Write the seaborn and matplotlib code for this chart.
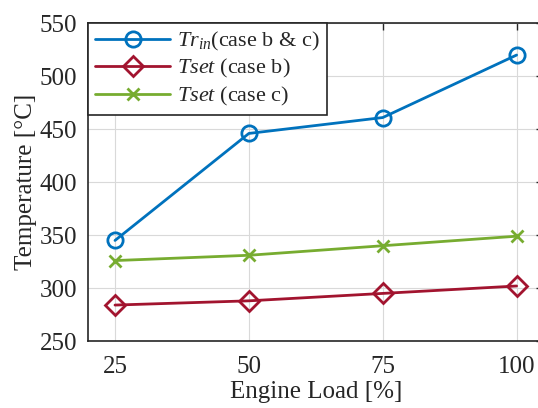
import matplotlib
matplotlib.use("Agg")
import matplotlib.pyplot as plt
import seaborn as sns
import pandas as pd

# Engine load points and measured / set temperatures
engine_load = [25, 50, 75, 100]
tr_in = [345, 446, 461, 520]
tset_case_b = [284, 288, 295, 302]
tset_case_c = [326, 331, 340, 349]

series_labels = [r"$Tr_{in}$(case b & c)", r"$Tset$ (case b)", r"$Tset$ (case c)"]
x_ticks = [25, 50, 75, 100]
y_ticks = [250, 300, 350, 400, 450, 500, 550]

sns.set_theme(style="whitegrid")
plt.rcParams["font.family"] = ["Liberation Serif", "DejaVu Serif"]
plt.rcParams["mathtext.fontset"] = "custom"
plt.rcParams["mathtext.rm"] = "Liberation Serif"
plt.rcParams["mathtext.it"] = "Liberation Serif:italic"
plt.rcParams["mathtext.bf"] = "Liberation Serif:bold"

fig = plt.figure(figsize=(5.38, 4.08), dpi=100)
ax = fig.add_axes([0.164, 0.164, 0.846, 0.779])

colors = ["#0072BD", "#A2142F", "#77AC30"]
markers = ["o", "D", "x"]
sizes = [11, 10, 9]
for vals, lab, col, mk, ms in zip([tr_in, tset_case_b, tset_case_c], series_labels,
                                  colors, markers, sizes):
    df = pd.DataFrame({"load": engine_load, "temp": vals})
    sns.lineplot(data=df, x="load", y="temp", ax=ax, color=col, linewidth=2,
                 marker=mk, markersize=ms, markerfacecolor="none",
                 markeredgecolor=col, markeredgewidth=2, label=lab)

ax.set_xlim(20, 105)
ax.set_ylim(250, 550)
ax.set_xticks(x_ticks)
ax.set_yticks(y_ticks)
ax.set_xlabel("Engine Load [%]", fontsize=18, color="#262626", labelpad=2)
ax.set_ylabel("Temperature [°C]", fontsize=18, color="#262626", labelpad=2)
ax.tick_params(axis="both", which="major", labelsize=18, direction="in",
               length=5, width=1, colors="#262626", top=True, right=True)
ax.tick_params(axis="x", pad=11)
ax.tick_params(axis="y", pad=8)
ax.grid(True, color="#d9d9d9", linewidth=0.8, linestyle="-")
for sp in ax.spines.values():
    sp.set_visible(True)
    sp.set_color("#262626")
    sp.set_linewidth(1.2)

leg = ax.legend(loc="upper left", borderaxespad=0, fontsize=16, frameon=True,
                fancybox=False, framealpha=1, edgecolor="#262626",
                handlelength=3.4, handletextpad=0.3, labelspacing=0.2,
                borderpad=0.3)
leg.get_frame().set_linewidth(1.2)

fig.savefig("out.png", dpi=100)
